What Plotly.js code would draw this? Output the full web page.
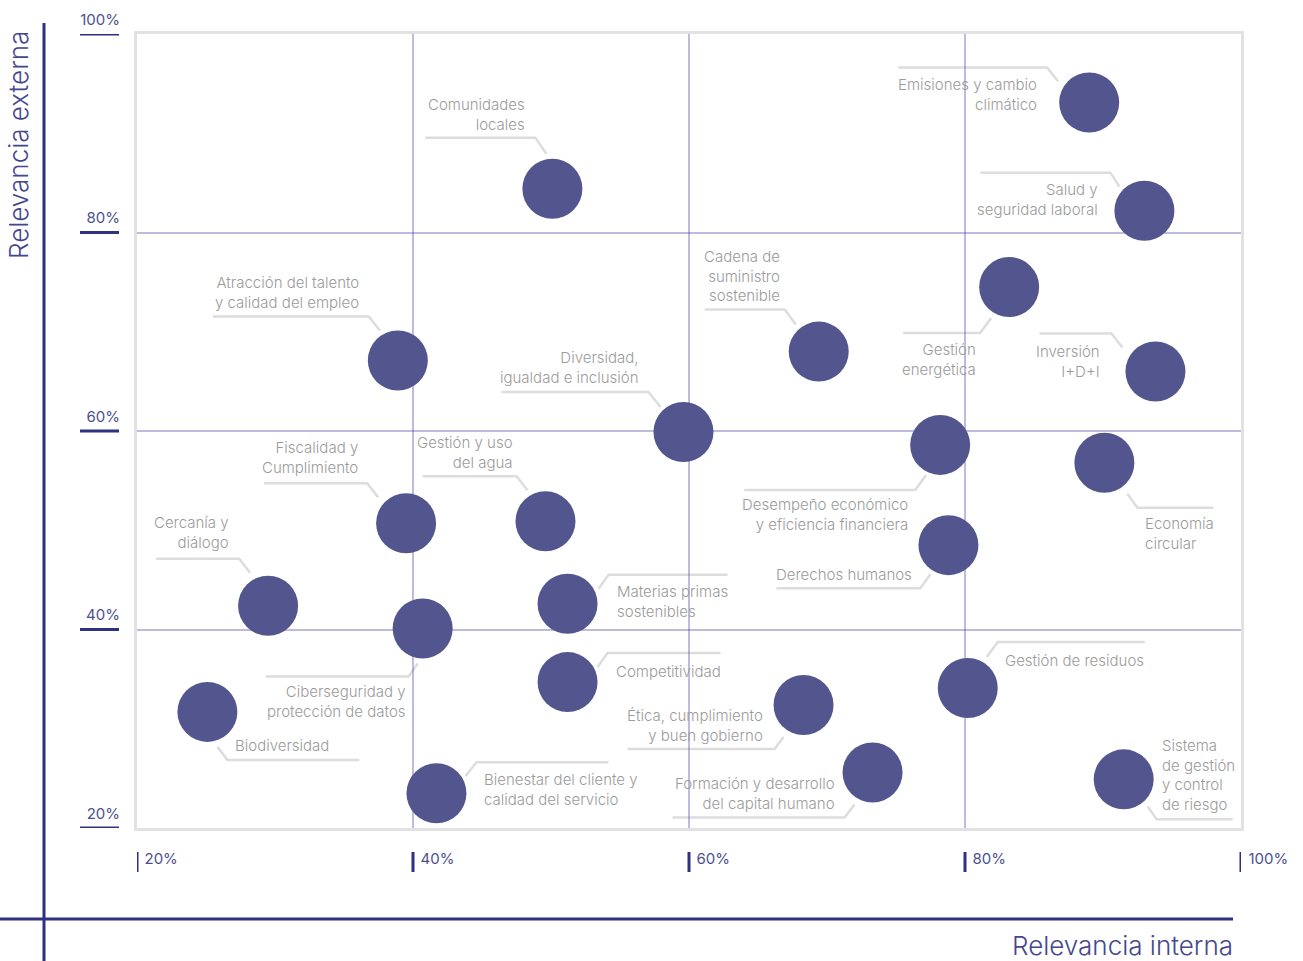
<!DOCTYPE html>
<html>
<head>
<meta charset="utf-8">
<script src="https://cdn.plot.ly/plotly-3.0.1.min.js"></script>
<style>
  body { margin: 0; background: #fff; }
  #matriz { width: 1303px; height: 961px; }
</style>
</head>
<body>
<div id="matriz"></div>
<script>
// datos de la matriz de materialidad
var temas = [
  "Emisiones y cambio<br>climático",
  "Salud y<br>seguridad laboral",
  "Comunidades<br>locales",
  "Atracción del talento<br>y calidad del empleo",
  "Cadena de<br>suministro<br>sostenible",
  "Gestión<br>energética",
  "Inversión<br>I+D+I",
  "Diversidad,<br>igualdad e inclusión",
  "Desempeño económico<br>y eficiencia financiera",
  "Economía<br>circular",
  "Fiscalidad y<br>Cumplimiento",
  "Gestión y uso<br>del agua",
  "Derechos humanos",
  "Cercanía y<br>diálogo",
  "Ciberseguridad y<br>protección de datos",
  "Materias primas<br>sostenibles",
  "Competitividad",
  "Biodiversidad",
  "Ética, cumplimiento<br>y buen gobierno",
  "Gestión de residuos",
  "Bienestar del cliente y<br>calidad del servicio",
  "Formación y desarrollo<br>del capital humano",
  "Sistema<br>de gestión<br>y control<br>de riesgo"
]
var interna = [89.0, 93.0, 50.1, 38.9, 69.4, 83.2, 93.8, 59.6, 78.2, 90.1, 39.5, 49.6, 78.8, 29.5, 40.7, 51.2, 51.2, 25.1, 68.3, 80.2, 41.7, 73.3, 91.5]
var externa = [93.1, 82.2, 84.4, 67.1, 68.0, 74.5, 66.0, 59.9, 58.6, 56.8, 50.7, 50.9, 48.5, 42.4, 40.1, 42.6, 34.7, 31.7, 32.4, 34.1, 23.5, 25.6, 24.9]
var ticks = [20, 40, 60, 80, 100]
var tickText = ["20%", "40%", "60%", "80%", "100%"]

// donde va cada etiqueta respecto a su circulo (pixeles) y su linea guia
var lado = ["right","right","right","right","right","right","right","right","right","left","right","right","right","right","right","left","left","left","right","left","left","right","left"]
var desX = [-50, -44, -25, -37, -37, -31, -53, -42, -30, 39, -46, -30, -34, -37, -15, 47, 46, 26, -39, 35, 46, -36, 36]
var desY = [-8, -11, -74, -68, -76, 72, -10, -64, 70, 71, -66, -69, 29, -73, 73, -2, -11, 34, 21, -28, -4, 21, -4]
var guias = [
  [[-191,-35],[-42,-35],[-31,-21]],
  [[-164,-38],[-34,-38],[-25,-24]],
  [[-127,-51],[-17,-51],[-6,-35]],
  [[-185,-44],[-29,-44],[-18,-30]],
  [[-114,-42],[-34,-42],[-23,-27]],
  [[-106,46],[-29,46],[-18,31]],
  [[-116,-38],[-44,-38],[-33,-24]],
  [[-182,-40],[-35,-40],[-23,-25]],
  [[-196,45],[-25,45],[-14,30]],
  [[23,31],[33,45],[109,45]],
  [[-142,-40],[-39,-40],[-28,-26]],
  [[-123,-45],[-29,-45],[-18,-31]],
  [[-172,43],[-28,43],[-18,29]],
  [[-112,-47],[-29,-47],[-18,-33]],
  [[-157,48],[-14,48],[-5,35]],
  [[31,-15],[41,-29],[160,-29]],
  [[30,-15],[40,-29],[153,-29]],
  [[10,35],[20,48],[152,48]],
  [[-176,44],[-29,44],[-20,32]],
  [[19,-31],[30,-46],[177,-46]],
  [[29,-17],[40,-31],[172,-31]],
  [[-200,45],[-28,45],[-18,32]],
  [[24,27],[33,40],[109,40]]
]

var W = 1303, H = 961
var mL = 137, mR = 62, mT = 34, mB = 133
var plotW = W - mL - mR, plotH = H - mT - mB
var azul = "#2f3181"
var letra = "Inter, 'Liberation Sans', sans-serif"

// pixel de la pagina -> fraccion del papel
function papelX(px){ return (px - mL) / plotW }
function papelY(py){ return (H - mB - py) / plotH }
// desplazamiento en pixeles -> unidades de los ejes
function dX(dx){ return dx * 80 / plotW }
function dY(dy){ return -dy * 80 / plotH }

var shapes = []
var annotations = []

for (var i = 0; i < temas.length; i++){
  var g = guias[i]
  var path = ""
  for (var k = 0; k < g.length; k++){
    path += (k == 0 ? "M" : "L") + (interna[i] + dX(g[k][0])) + "," + (externa[i] + dY(g[k][1]))
  }
  shapes.push({type: "path", xref: "x", yref: "y", path: path,
    line: {color: "#dddddd", width: 2.5}, layer: "below"})

  annotations.push({
    x: interna[i], y: externa[i], xref: "x", yref: "y",
    text: temas[i], showarrow: false,
    xanchor: lado[i], yanchor: "middle", align: lado[i],
    xshift: desX[i], yshift: -desY[i],
    font: {family: letra, size: 15, color: "#9b9b9b", weight: 300}
  })
}

// marcas de las escalas
for (var t = 0; t < ticks.length; t++){
  shapes.push({type: "line", xref: "paper", yref: "y",
    x0: papelX(80), x1: papelX(119), y0: ticks[t], y1: ticks[t],
    line: {color: azul, width: 3}})
  shapes.push({type: "line", xref: "x", yref: "paper",
    x0: ticks[t], x1: ticks[t], y0: papelY(852), y1: papelY(872),
    line: {color: azul, width: 3}})
}

// ejes grandes
shapes.push({type: "line", xref: "paper", yref: "paper",
  x0: papelX(44), x1: papelX(44), y0: papelY(23), y1: papelY(961),
  line: {color: azul, width: 3}})
shapes.push({type: "line", xref: "paper", yref: "paper",
  x0: papelX(0), x1: papelX(1233), y0: papelY(919), y1: papelY(919),
  line: {color: azul, width: 3}})

annotations.push({xref: "paper", yref: "paper", x: papelX(18), y: papelY(145),
  text: "Relevancia externa", textangle: -90, showarrow: false,
  xanchor: "center", yanchor: "middle",
  font: {family: letra, size: 26, color: "#45478c", weight: 300}})
annotations.push({xref: "paper", yref: "paper", x: papelX(1235), y: papelY(945),
  text: "Relevancia interna", showarrow: false,
  xanchor: "right", yanchor: "middle",
  font: {family: letra, size: 26, color: "#45478c", weight: 300}})

var data = [{
  x: interna,
  y: externa,
  mode: "markers",
  type: "scatter",
  hoverinfo: "text",
  text: temas,
  marker: {size: 60, color: "#53568e", line: {width: 0}}
}]

var layout = {
  width: W, height: H,
  margin: {l: mL, r: mR, t: mT, b: mB},
  paper_bgcolor: "#fff", plot_bgcolor: "#fff",
  showlegend: false,
  xaxis: {
    range: [20, 100], tickvals: ticks, ticktext: tickText,
    showgrid: true, gridcolor: "rgba(70,60,160,0.35)", gridwidth: 1.5,
    zeroline: false, showline: true, mirror: true, linecolor: "#e2e2e2", linewidth: 3,
    ticks: "", ticklabelposition: "outside right", ticklabelstandoff: 15, ticklabelshift: 6,
    layer: "above traces",
    tickfont: {family: letra, size: 15, color: "#4d4f90"}
  },
  yaxis: {
    range: [20, 100], tickvals: ticks, ticktext: tickText,
    showgrid: true, gridcolor: "rgba(70,60,160,0.35)", gridwidth: 1.5,
    zeroline: false, showline: true, mirror: true, linecolor: "#e2e2e2", linewidth: 3,
    ticks: "", ticklabelposition: "outside top", ticklabelstandoff: 11, ticklabelshift: -4,
    layer: "above traces",
    tickfont: {family: letra, size: 15, color: "#4d4f90"}
  },
  shapes: shapes,
  annotations: annotations
}

Plotly.newPlot("matriz", data, layout, {displayModeBar: false})
</script>
</body>
</html>
